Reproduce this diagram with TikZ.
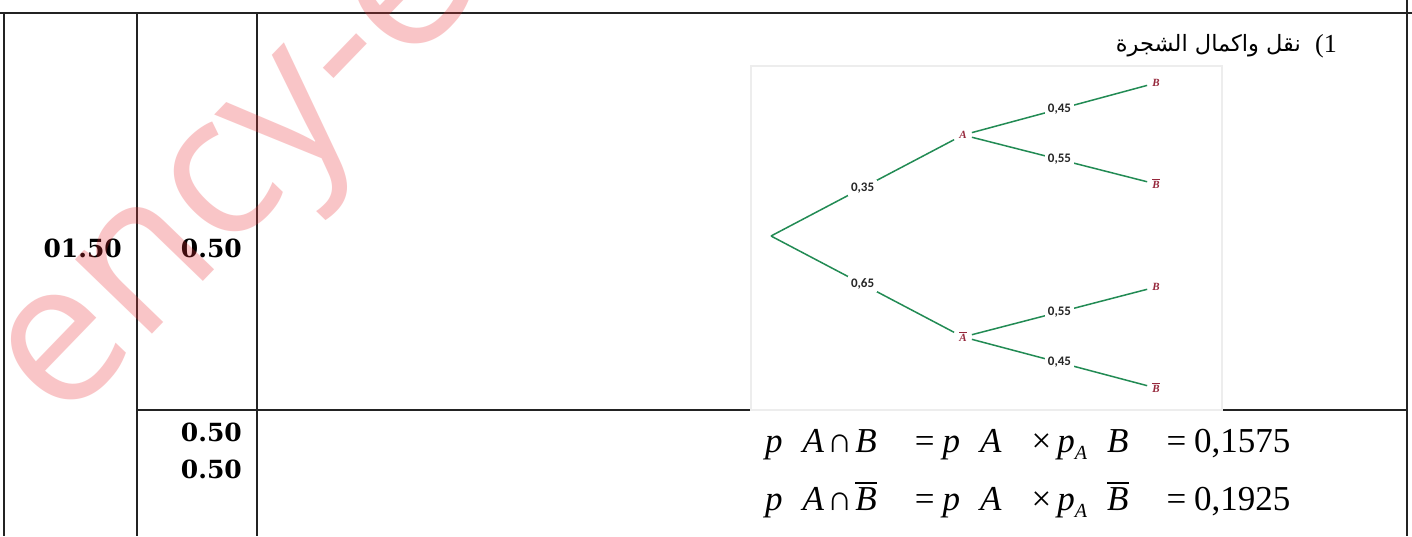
\documentclass[tikz,border=0pt]{standalone}
\usepackage{fontspec}
\setmainfont{Liberation Serif}
\newfontfamily\arabicfont[Script=Arabic]{DejaVu Sans}
\newfontfamily\labelfont{Carlito}
\newfontfamily\scorefont{DejaVu Serif}
\newfontfamily\wmfont{Open Sans}
\TeXXeTstate=1
\usepackage{tikz}
\usetikzlibrary{positioning}
\definecolor{branch}{RGB}{34,139,84}
\definecolor{event}{RGB}{150,40,60}
\definecolor{rulecol}{RGB}{35,35,35}
\definecolor{wmred}{RGB}{235,50,55}
% bar over a letter: thickness, gap, letter
\newcommand\barred[3]{\vbox{\hrule height #1\kern #2\hbox{#3}}}

\begin{document}
\begin{tikzpicture}[x=1pt,y=-1pt,
  grid/.style={draw=rulecol,line width=1.2pt},
  score/.style={font=\scorefont\fontsize{25}{26}\selectfont\bfseries,inner sep=0pt,anchor=base east},
  ev/.style={font=\fontsize{11}{12}\selectfont\bfseries\itshape,text=event,inner sep=5pt},
  prob/.style={font=\labelfont\fontsize{13}{14}\selectfont\bfseries,text=black!85,fill=white,inner sep=3pt},
  br/.style={draw=branch,line width=1.5pt},
  eq/.style={font=\fontsize{35}{36}\selectfont,inner sep=0pt,anchor=base west}]

  \useasboundingbox (0,0) rectangle (1412,536);
  \fill[white] (0,0) rectangle (1412,536);

  % table rules
  \draw[grid] (0,13) -- (1412,13);
  \draw[grid] (4,13) -- (4,536);
  \draw[grid] (137,13) -- (137,536);
  \draw[grid] (257,13) -- (257,536);
  \draw[grid] (1407,0) -- (1407,536);
  \draw[grid] (137,410) -- (1407,410);

  % marks
  \node[score] (total) at (122,257) {01.50};
  \node[score] (part1) at (242,257) {0.50};
  \node[score] (part2) at (242,441) {0.50};
  \node[score] (part3) at (242,478) {0.50};

  % question
  \node[font=\arabicfont\fontsize{22.5}{24}\selectfont,anchor=base east,inner sep=0pt] (task) at (1301,51) {\beginR نقل واكمال الشجرة\endR};
  \node[font=\fontsize{26}{27}\selectfont,anchor=base west,inner sep=0pt] (num) at (1315,52) {(1};

  % tree
  \draw[draw=black!7,line width=1.6pt] (751,66) rectangle (1222,410);
  \coordinate (root) at (771,236);
  \node[ev] (A) at (963,135) {A};
  \node[ev] (Ab) at (963,337) {\barred{0.9pt}{1.2pt}{A}};
  \node[ev] (B1) at (1156,83) {B};
  \node[ev] (B1b) at (1156,184) {\barred{0.9pt}{1.2pt}{B}};
  \node[ev] (B2) at (1156,287) {B};
  \node[ev] (B2b) at (1156,388) {\barred{0.9pt}{1.2pt}{B}};

  \draw[br] (root) -- node[prob]{0,35} (A);
  \draw[br] (root) -- node[prob]{0,65} (Ab);
  \draw[br] (A) -- node[prob]{0,45} (B1);
  \draw[br] (A) -- node[prob]{0,55} (B1b);
  \draw[br] (Ab) -- node[prob]{0,55} (B2);
  \draw[br] (Ab) -- node[prob]{0,45} (B2b);

  % answers
  \node[eq] (eq1) at (765,452) {\textit{p}\hspace{20pt}\textit{A}\hspace{3pt}∩\hspace{3pt}\textit{B}\hspace{38pt}=\hspace{8pt}\textit{p}\hspace{20pt}\textit{A}\hspace{30pt}×\hspace{6pt}\textit{p}\raisebox{-7pt}{\fontsize{20}{20}\selectfont\textit{A}}\hspace{20pt}\textit{B}\hspace{38pt}=\hspace{8pt}0,1575};
  \node[eq] (eq2) at (765,510) {\textit{p}\hspace{20pt}\textit{A}\hspace{3pt}∩\hspace{3pt}\barred{2.2pt}{3pt}{\textit{B}}\hspace{38pt}=\hspace{8pt}\textit{p}\hspace{20pt}\textit{A}\hspace{30pt}×\hspace{6pt}\textit{p}\raisebox{-7pt}{\fontsize{20}{20}\selectfont\textit{A}}\hspace{20pt}\barred{2.2pt}{3pt}{\textit{B}}\hspace{38pt}=\hspace{8pt}0,1925};

  % watermark
  \begin{scope}
    \clip (0,0) rectangle (1412,536);
    \node[font=\wmfont\fontsize{200}{200}\selectfont,text=wmred,opacity=0.28,rotate=46,anchor=base west,inner sep=0pt] (wmark) at (62,427) {ency-education};
  \end{scope}
\end{tikzpicture}
\end{document}
